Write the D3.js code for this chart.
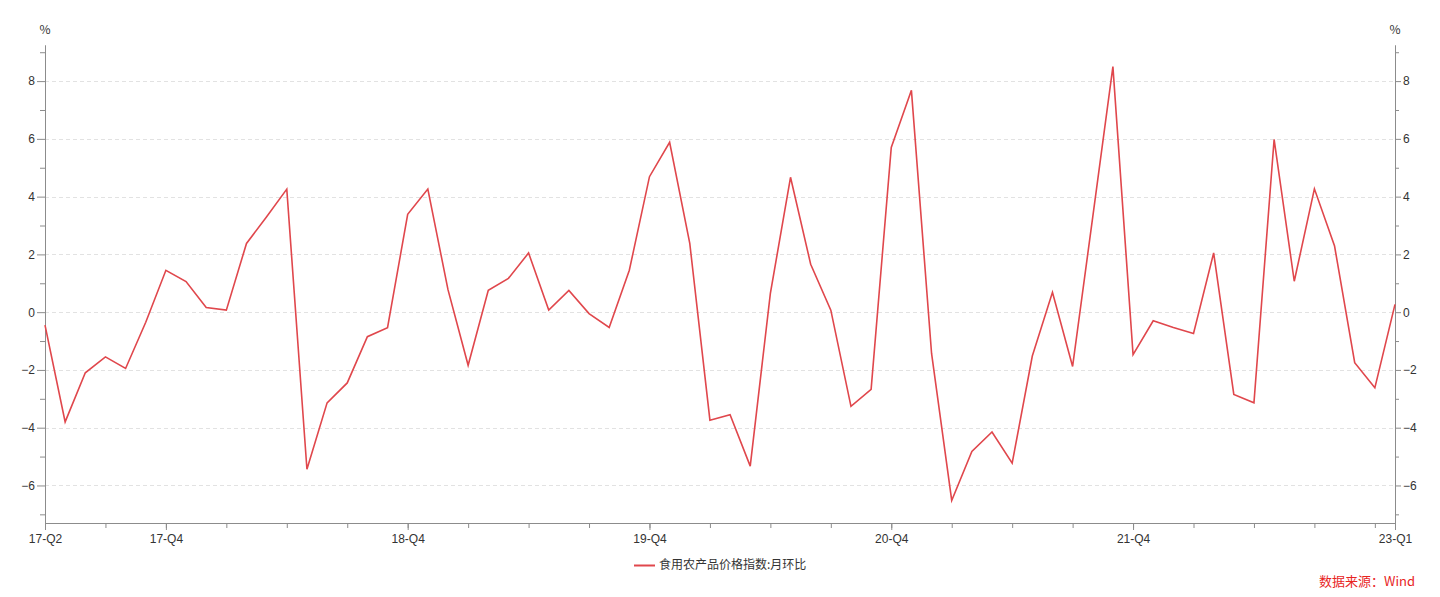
<!DOCTYPE html>
<html>
<head>
<meta charset="utf-8">
<script src="https://cdn.jsdelivr.net/npm/d3@7"></script>
<style>
  html, body { margin: 0; padding: 0; background: #fff; }
  svg { display: block; font-family: "Noto Sans CJK SC", "Noto Sans", sans-serif; }
</style>
</head>
<body>
<svg id="chart" width="1440" height="597"></svg>
<script>
// Months from 2017-06 to 2023-01
const months = [
  "2017-06","2017-07","2017-08","2017-09","2017-10","2017-11","2017-12",
  "2018-01","2018-02","2018-03","2018-04","2018-05","2018-06","2018-07","2018-08","2018-09","2018-10","2018-11","2018-12",
  "2019-01","2019-02","2019-03","2019-04","2019-05","2019-06","2019-07","2019-08","2019-09","2019-10","2019-11","2019-12",
  "2020-01","2020-02","2020-03","2020-04","2020-05","2020-06","2020-07","2020-08","2020-09","2020-10","2020-11","2020-12",
  "2021-01","2021-02","2021-03","2021-04","2021-05","2021-06","2021-07","2021-08","2021-09","2021-10","2021-11","2021-12",
  "2022-01","2022-02","2022-03","2022-04","2022-05","2022-06","2022-07","2022-08","2022-09","2022-10","2022-11","2022-12",
  "2023-01"
];
// 食用农产品价格指数:月环比 (%)
const values = [
  -0.45, -3.8, -2.1, -1.55, -1.95, -0.35, 1.45,
  1.06, 0.16, 0.07, 2.38, 3.3, 4.26, -5.44, -3.14, -2.45, -0.85, -0.54, 3.39,
  4.26, 0.78, -1.84, 0.76, 1.17, 2.05, 0.07, 0.75, -0.05, -0.53, 1.45, 4.69,
  5.88, 2.38, -3.74, -3.55, -5.33, 0.65, 4.67, 1.66, 0.07, -3.26, -2.67, 5.7,
  7.68, -1.43, -6.52, -4.82, -4.15, -5.23, -1.52, 0.69, -1.88, 3.3, 8.5, -1.47,
  -0.3, -0.53, -0.74, 2.05, -2.85, -3.14, 5.98, 1.07, 4.27, 2.29, -1.75, -2.62,
  0.27
];
// x-axis labels: month index -> label
const xLabelIdx = [0, 6, 18, 30, 42, 54, 67];
const xLabelText = ["17-Q2", "17-Q4", "18-Q4", "19-Q4", "20-Q4", "21-Q4", "23-Q1"];
const yMajorTicks = [-6, -4, -2, 0, 2, 4, 6, 8];
const yMinorTicks = [-7, -5, -3, -1, 1, 3, 5, 7, 9];
const yDomain = [-7.3, 9.25];
const seriesName = "食用农产品价格指数:月环比";
const sourceText = "数据来源：Wind";
const unitText = "%";

const svg = d3.select("#chart");
const mLeft = 45, mRight = 1395, mTop = 45, mBottom = 523;
const lineColor = "#e0474c";
const axisColor = "#8c8c8c";
const textColor = "#333";

const x = d3.scaleLinear().domain([0, months.length - 1]).range([mLeft, mRight]);
const y = d3.scaleLinear().domain(yDomain).range([mBottom, mTop]);

// grid
svg.append("g").selectAll("line").data(yMajorTicks).join("line")
  .attr("x1", mLeft).attr("x2", mRight)
  .attr("y1", d => Math.round(y(d)) + 0.5).attr("y2", d => Math.round(y(d)) + 0.5)
  .attr("stroke", "#e2e2e2").attr("stroke-dasharray", "4,3").attr("stroke-width", 1);

function styleAxis(g) {
  g.select(".domain").attr("stroke", axisColor);
  g.selectAll(".tick line").attr("stroke", axisColor);
  g.selectAll(".tick text").attr("fill", textColor).attr("font-size", 12);
}

// left axis
svg.append("g").attr("transform", `translate(${mLeft},0)`)
  .call(d3.axisLeft(y).tickValues(yMinorTicks).tickSize(5).tickFormat("").tickSizeOuter(0))
  .call(styleAxis);
svg.append("g").attr("transform", `translate(${mLeft},0)`)
  .call(d3.axisLeft(y).tickValues(yMajorTicks).tickSize(8).tickPadding(2).tickSizeOuter(0))
  .call(styleAxis);

// right axis
svg.append("g").attr("transform", `translate(${mRight},0)`)
  .call(d3.axisRight(y).tickValues(yMinorTicks).tickSize(4).tickFormat("").tickSizeOuter(0))
  .call(styleAxis);
svg.append("g").attr("transform", `translate(${mRight},0)`)
  .call(d3.axisRight(y).tickValues(yMajorTicks).tickSize(6).tickPadding(2).tickSizeOuter(0))
  .call(styleAxis);

// bottom axis
const minorX = d3.range(0, months.length, 3);
svg.append("g").attr("transform", `translate(0,${mBottom})`)
  .call(d3.axisBottom(x).tickValues(minorX).tickSize(5).tickFormat("").tickSizeOuter(0))
  .call(styleAxis);
svg.append("g").attr("transform", `translate(0,${mBottom})`)
  .call(d3.axisBottom(x).tickValues(xLabelIdx).tickSize(7).tickPadding(4)
    .tickFormat(d => xLabelText[xLabelIdx.indexOf(d)]).tickSizeOuter(0))
  .call(styleAxis);

// unit labels
svg.append("text").attr("x", mLeft).attr("y", 34).attr("text-anchor", "middle")
  .attr("font-size", 12).attr("fill", textColor).text(unitText);
svg.append("text").attr("x", mRight).attr("y", 34).attr("text-anchor", "middle")
  .attr("font-size", 12).attr("fill", textColor).text(unitText);

// line
const line = d3.line().x((d, i) => x(i)).y(d => y(d));
svg.append("path").datum(values)
  .attr("d", line).attr("fill", "none")
  .attr("stroke", lineColor).attr("stroke-width", 1.6).attr("stroke-linejoin", "miter");

// legend
const lg = svg.append("g");
lg.append("line").attr("x1", 634).attr("x2", 655).attr("y1", 565.5).attr("y2", 565.5)
  .attr("stroke", lineColor).attr("stroke-width", 2);
lg.append("text").attr("x", 659).attr("y", 565).attr("dy", "0.35em")
  .attr("font-size", 12).attr("fill", textColor).text(seriesName);

// source
svg.append("text").attr("x", 1415).attr("y", 581).attr("dy", "0.35em").attr("text-anchor", "end")
  .attr("font-size", 13).attr("fill", "#e8251f").text(sourceText);
</script>
</body>
</html>
